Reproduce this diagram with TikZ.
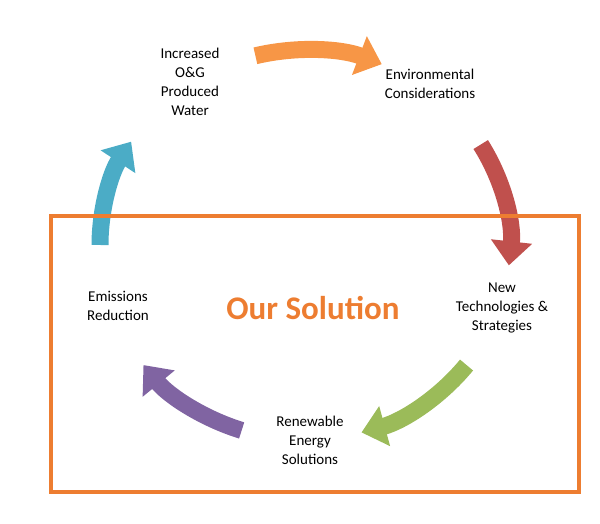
\documentclass[tikz,border=0pt]{standalone}
\usepackage{fontspec}
\setmainfont{Carlito}
\usetikzlibrary{arrows.meta}
\definecolor{cO}{HTML}{F79646}
\definecolor{cR}{HTML}{C0504D}
\definecolor{cG}{HTML}{9BBB59}
\definecolor{cP}{HTML}{8064A2}
\definecolor{cB}{HTML}{4BACC6}
\definecolor{box}{HTML}{ED7D31}
\begin{document}
\begin{tikzpicture}[x=1pt,y=1pt,
  cyc/.style={line width=17pt,-{Triangle[length=24pt,width=40pt]}},
  lbl/.style={align=center,font=\fontsize{15}{19}\selectfont}]
\useasboundingbox (0,0) rectangle (600,524);
\coordinate (c) at (305,279);
\draw[cyc,cO] (c) ++(104:205pt and 195pt) arc[start angle=104,end angle=68,x radius=205pt,y radius=195pt];
\draw[cyc,cR] (c) ++(31:205pt and 195pt) arc[start angle=31,end angle=-6,x radius=205pt,y radius=195pt];
\draw[cyc,cG] (c) ++(-38:205pt and 195pt) arc[start angle=-38,end angle=-74,x radius=205pt,y radius=195pt];
\draw[cyc,cP] (c) ++(-108:205pt and 195pt) arc[start angle=-108,end angle=-142,x radius=205pt,y radius=195pt];
\draw[cyc,cB] (c) ++(180:205pt and 195pt) arc[start angle=180,end angle=148,x radius=205pt,y radius=195pt];
\node[draw=box,line width=3.5pt,minimum width=528pt,minimum height=276pt] (frame) at (315,170) {};
\node[lbl] (a) at (190,442) {Increased\\O\&G\\Produced\\Water};
\node[lbl] (b) at (430,440) {Environmental\\Considerations};
\node[lbl] (n) at (502,216) {New\\Technologies \&\\Strategies};
\node[lbl] (r) at (310,84) {Renewable\\Energy\\Solutions};
\node[lbl] (e) at (118,218) {Emissions\\Reduction};
\node[text=box,font=\bfseries\fontsize{33}{38}\selectfont] (s) at (313,216) {Our Solution};
\end{tikzpicture}
\end{document}
